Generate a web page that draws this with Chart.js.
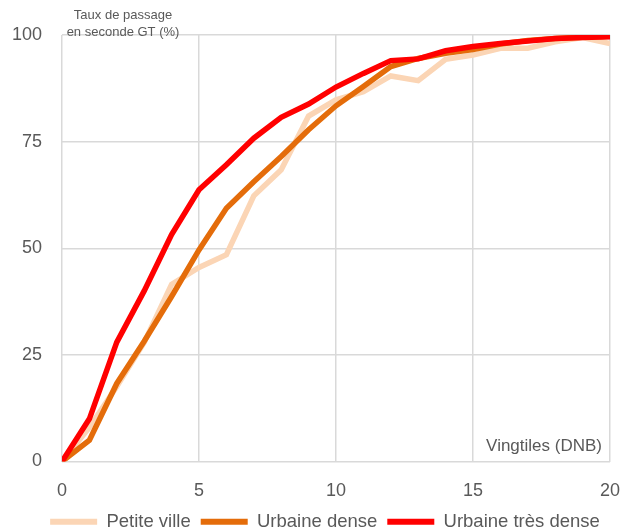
<!DOCTYPE html>
<html lang="fr">
<head>
  <meta charset="UTF-8">
  <title>Taux de passage en seconde GT</title>
  <script src="https://cdn.jsdelivr.net/npm/chart.js"></script>
  <style>
    html, body { margin: 0; padding: 0; background: #fff; }
    #wrap { width: 620px; height: 531px; }
  </style>
</head>
<body>
  <div id="wrap"><canvas id="chart" width="620" height="531"></canvas></div>

  <script>
    // vingtiles DNB (x) and pass rates (%)
    const vingtiles = [0, 1, 2, 3, 4, 5, 6, 7, 8, 9, 10, 11, 12, 13, 14, 15, 16, 17, 18, 19, 20];
    const petiteVille = [0, 8, 17.6, 27.9, 41.5, 45.5, 48.5, 62.3, 68.4, 81, 84.8, 86.7, 90.4, 89.3, 94.3, 95.3, 96.9, 96.9, 98.4, 99.4, 98];
    const urbaineDense = [0, 5, 18.3, 28.2, 38.7, 49.6, 59.4, 65.6, 71.5, 77.8, 83.4, 87.9, 92.6, 94.5, 95.7, 96.6, 97.9, 98.7, 99.2, 99.5, 99.7];
    const urbaineTresDense = [0, 10, 28, 40, 53.2, 63.7, 69.6, 75.8, 80.7, 83.8, 87.8, 91, 94, 94.4, 96.3, 97.3, 98, 98.6, 99.2, 99.4, 99.6];
    const seriesNames = ['Petite ville', 'Urbaine dense', 'Urbaine très dense'];
    const yTitle = ['Taux de passage', 'en seconde GT (%)'];
    const xTitle = 'Vingtiles (DNB)';

    Chart.defaults.font.family = '"Liberation Sans", Arial, sans-serif';
    Chart.defaults.color = '#595959';

    // axis titles sit inside the plot like in the original
    const axisTexts = {
      id: 'axisTexts',
      afterLayout(chart) {
        // legend is a bit right of centre in the original
        chart.legend.left += 20;
        chart.legend.right += 20;
      },
      afterDraw(chart) {
        const { ctx, chartArea } = chart;
        ctx.save();
        ctx.fillStyle = '#595959';
        ctx.textBaseline = 'middle';
        ctx.textAlign = 'center';
        ctx.font = '13px "Liberation Sans", Arial, sans-serif';
        ctx.fillText(yTitle[0], chartArea.left + 61, chartArea.top - 20);
        ctx.fillText(yTitle[1], chartArea.left + 61, chartArea.top - 3);
        ctx.textAlign = 'right';
        ctx.font = '17px "Liberation Sans", Arial, sans-serif';
        ctx.fillText(xTitle, chartArea.right - 8, chartArea.bottom - 15);
        ctx.restore();
      }
    };

    function line(label, data, color, order) {
      return {
        label, data, order,
        borderColor: color,
        backgroundColor: color,
        borderWidth: 5.5,
        pointRadius: 0,
        tension: 0
      };
    }

    new Chart(document.getElementById('chart'), {
      type: 'line',
      data: {
        labels: vingtiles,
        datasets: [
          line(seriesNames[0], petiteVille, '#FBD5B5', 2),
          line(seriesNames[1], urbaineDense, '#E46C0A', 1),
          line(seriesNames[2], urbaineTresDense, '#FF0000', 0)
        ]
      },
      options: {
        responsive: false,
        animation: false,
        layout: { padding: { left: 0, right: 10, top: 35, bottom: -10 } },
        scales: {
          x: {
            type: 'linear',
            min: 0, max: 20,
            afterFit(scale) { scale.height = 41; },
            grid: { color: '#d9d9d9', lineWidth: 1.5, drawTicks: true, tickLength: 19, tickColor: 'rgba(0,0,0,0)' },
            border: { display: false },
            ticks: { stepSize: 5, padding: 0, font: { size: 18 }, color: '#595959' }
          },
          y: {
            min: 0, max: 100,
            afterFit(scale) { scale.width = 62; },
            grid: { color: '#d9d9d9', lineWidth: 1.5, drawTicks: false },
            border: { display: false },
            ticks: { stepSize: 25, padding: 20, font: { size: 18 }, color: '#595959' }
          }
        },
        plugins: {
          legend: {
            position: 'bottom',
            labels: {
              boxWidth: 47,
              boxHeight: 6,
              padding: 10,
              font: { size: 18.5 },
              color: '#595959',
              sort: (a, b) => a.datasetIndex - b.datasetIndex,
              generateLabels(chart) {
                const items = Chart.defaults.plugins.legend.labels.generateLabels(chart);
                items.forEach(it => { it.lineWidth = 0; });
                return items;
              }
            }
          },
          tooltip: { enabled: false }
        }
      },
      plugins: [axisTexts]
    });
  </script>
</body>
</html>
